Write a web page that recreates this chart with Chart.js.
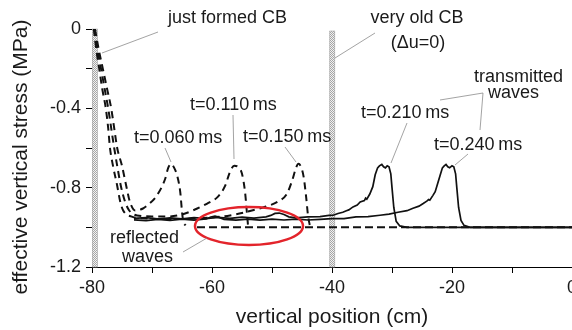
<!DOCTYPE html>
<html>
<head>
<meta charset="utf-8">
<script src="https://cdn.jsdelivr.net/npm/chart.js@4.4.1/dist/chart.umd.min.js"></script>
<style>
  html, body { margin: 0; padding: 0; background: #fff; }
  #wrap { width: 572px; height: 330px; }
</style>
</head>
<body>
<div id="wrap"><canvas id="stress"></canvas></div>
<script>
// vertical position (cm) / effective vertical stress (MPa)
const x060 = [-79.5, -78.9, -78.2, -77.5, -76.8, -76.3, -75.8, -75.0, -74.3, -73.7, -72.8, -71.5, -70.8, -69.2, -67.8, -67.3, -66.8, -66.3, -65.8, -65.3, -65.0, -64.8, -64.4];
const y060 = [0, -0.1, -0.2, -0.3, -0.4, -0.5, -0.6, -0.69, -0.79, -0.87, -0.915, -0.905, -0.89, -0.84, -0.755, -0.70, -0.68, -0.70, -0.74, -0.82, -0.92, -0.97, -0.99];

const x110 = [-79.6, -79.1, -78.5, -77.9, -77.3, -76.8, -76.3, -75.8, -75.2, -74.5, -73.8, -72.5, -70.0, -67.0, -65.0, -63.2, -60.8, -59.0, -57.8, -57.0, -56.3, -55.5, -55.0, -54.5, -54.2, -54.0];
const y110 = [0, -0.1, -0.2, -0.3, -0.4, -0.5, -0.6, -0.69, -0.79, -0.87, -0.915, -0.94, -0.945, -0.945, -0.935, -0.915, -0.88, -0.845, -0.79, -0.72, -0.69, -0.70, -0.73, -0.82, -0.92, -0.99];

const x150 = [-79.7, -79.3, -78.8, -78.3, -77.7, -77.3, -77.0, -76.5, -75.8, -75.3, -74.8, -73.5, -71.0, -66.0, -62.0, -60.0, -57.0, -54.0, -51.0, -49.0, -47.5, -46.6, -46.0, -45.6, -45.1, -44.7, -44.3, -44.0, -43.7];
const y150 = [0, -0.1, -0.2, -0.3, -0.4, -0.5, -0.6, -0.69, -0.79, -0.87, -0.915, -0.945, -0.955, -0.958, -0.955, -0.95, -0.94, -0.92, -0.895, -0.87, -0.83, -0.76, -0.70, -0.68, -0.70, -0.75, -0.85, -0.94, -0.99];

const x210 = [-73, -71, -69, -67, -65, -63, -61, -59, -57, -55, -53, -51, -50.2, -49.5, -48.8, -48, -47.2, -46, -44, -42, -40.5, -39.8, -39.0, -38.2, -37.6, -37.2, -36.5, -35.8, -35.3, -34.6, -34.4, -34.2, -33.7, -33.2, -32.8, -32.4, -32.1, -31.7, -31.4, -31.1, -30.8, -30.5, -30.2, -30.0, -29.7, -29.3, -28.7, -27.5, 0];
const y210 = [-0.955, -0.951, -0.958, -0.952, -0.957, -0.951, -0.956, -0.95, -0.955, -0.949, -0.954, -0.947, -0.94, -0.93, -0.928, -0.935, -0.947, -0.952, -0.947, -0.946, -0.94, -0.939, -0.93, -0.924, -0.916, -0.912, -0.897, -0.888, -0.872, -0.865, -0.853, -0.858, -0.832, -0.795, -0.735, -0.70, -0.69, -0.683, -0.695, -0.70, -0.69, -0.695, -0.73, -0.80, -0.90, -0.97, -0.993, -1.0, -1.0];

const x240 = [-73, -71, -69, -67, -65, -63, -61, -60.2, -59.5, -58.8, -58, -56, -54, -52, -50, -48, -46, -44, -42, -40, -38, -36, -34, -32, -30.5, -29, -27.5, -26.5, -25.5, -24.8, -24.2, -23.9, -23.7, -23.2, -22.8, -22.4, -22.0, -21.6, -21.3, -21.0, -20.7, -20.4, -20.0, -19.7, -19.4, -19.2, -18.9, -18.5, -18.0, -17.0, 0];
const y240 = [-0.962, -0.966, -0.96, -0.965, -0.959, -0.964, -0.958, -0.948, -0.944, -0.95, -0.96, -0.964, -0.959, -0.964, -0.959, -0.963, -0.959, -0.963, -0.96, -0.956, -0.956, -0.947, -0.946, -0.939, -0.933, -0.924, -0.916, -0.904, -0.893, -0.88, -0.868, -0.86, -0.863, -0.84, -0.82, -0.78, -0.74, -0.70, -0.69, -0.683, -0.695, -0.70, -0.69, -0.695, -0.73, -0.80, -0.90, -0.965, -0.99, -1.0, -1.0];

// undisturbed stress ahead of the fronts
const xInit = [-62.5, 0];
const yInit = [-1.0, -1.0];

// contact boundaries (CB)
const cbPositions = [-80, -40];

const xTickStep = 10;
const yTickStep = 0.2;

const pts = (xs, ys) => xs.map((x, i) => ({ x: x, y: ys[i] }));

const FONT = '"Liberation Sans", Arial, Helvetica, sans-serif';

function stipple(ctx) {
  const c = document.createElement('canvas');
  c.width = 2; c.height = 2;
  const g = c.getContext('2d');
  g.fillStyle = '#f2f2f2';
  g.fillRect(0, 0, 2, 2);
  g.fillStyle = '#a6a6a6';
  g.fillRect(0, 0, 1, 1);
  g.fillRect(1, 1, 1, 1);
  return ctx.createPattern(c, 'repeat');
}

const overlay = {
  id: 'overlay',
  beforeDatasetsDraw(chart) {
    const { ctx, chartArea, scales } = chart;
    ctx.save();
    ctx.fillStyle = stipple(ctx);
    ctx.strokeStyle = '#a8a8a8';
    ctx.lineWidth = 0.6;
    cbPositions.forEach((p, i) => {
      const px = scales.x.getPixelForValue(p);
      const left = i === 0 ? px : px - 2.5;
      const top = i === 0 ? chartArea.top : chartArea.top + 2;
      ctx.fillRect(left, top, 5.5, chartArea.bottom - top);
      ctx.strokeRect(left + 0.3, top, 5, chartArea.bottom - top);
    });
    ctx.restore();
  },
  afterDatasetsDraw(chart) {
    const { ctx } = chart;
    ctx.save();

    // red ellipse round the reflected waves
    ctx.strokeStyle = '#e3242b';
    ctx.lineWidth = 2.5;
    ctx.beginPath();
    ctx.ellipse(249, 226, 54, 19, 0, 0, Math.PI * 2);
    ctx.stroke();

    // leader lines
    ctx.strokeStyle = '#8c8c8c';
    ctx.lineWidth = 0.8;
    const leaders = [
      [[158, 32], [102, 53]],
      [[375, 33], [335, 58]],
      [[165, 148], [171, 162]],
      [[233, 115], [234, 159]],
      [[285, 147], [296, 162]],
      [[407, 123], [391, 163]],
      [[468, 154], [455, 165]],
      [[440, 100], [483, 93], [480, 130]],
      [[183, 252], [207, 238]]
    ];
    leaders.forEach(l => {
      ctx.beginPath();
      ctx.moveTo(l[0][0], l[0][1]);
      for (let i = 1; i < l.length; i++) ctx.lineTo(l[i][0], l[i][1]);
      ctx.stroke();
    });

    // labels
    ctx.fillStyle = '#1a1a1a';
    ctx.font = '18px ' + FONT;
    ctx.textBaseline = 'middle';
    ctx.textAlign = 'left';
    const labels = [
      ['just formed CB', 168, 18],
      ['t=0.060\u2009ms', 134, 138],
      ['t=0.110\u2009ms', 190, 105],
      ['t=0.150\u2009ms', 243, 137],
      ['t=0.210\u2009ms', 361, 113],
      ['t=0.240\u2009ms', 434, 145],
      ['transmitted', 474, 77],
      ['waves', 488, 93],
      ['reflected', 110, 238],
      ['waves', 122, 257]
    ];
    labels.forEach(t => ctx.fillText(t[0], t[1], t[2]));
    ctx.textAlign = 'center';
    ctx.fillText('very old CB', 417, 18);
    ctx.fillText('(\u0394u=0)', 418, 43);

    // axis titles
    ctx.font = '21px ' + FONT;
    ctx.fillText('vertical position (cm)', 332, 317);
    ctx.translate(21, 157);
    ctx.rotate(-Math.PI / 2);
    ctx.fillText('effective vertical stress (MPa)', 0, 0);
    ctx.restore();
  }
};

const dashed = { borderColor: '#111', borderWidth: 2, borderDash: [7, 5], pointRadius: 0, fill: false, cubicInterpolationMode: 'monotone' };
const solid = { borderColor: '#111', borderWidth: 1.7, pointRadius: 0, fill: false, tension: 0 };

new Chart(document.getElementById('stress'), {
  type: 'line',
  data: {
    datasets: [
      Object.assign({ label: 'initial', data: pts(xInit, yInit) }, dashed, { borderDash: [8, 4] }),
      Object.assign({ label: 't=0.060 ms', data: pts(x060, y060) }, dashed),
      Object.assign({ label: 't=0.110 ms', data: pts(x110, y110) }, dashed),
      Object.assign({ label: 't=0.150 ms', data: pts(x150, y150) }, dashed),
      Object.assign({ label: 't=0.210 ms', data: pts(x210, y210) }, solid),
      Object.assign({ label: 't=0.240 ms', data: pts(x240, y240) }, solid)
    ]
  },
  options: {
    responsive: true,
    maintainAspectRatio: false,
    animation: false,
    devicePixelRatio: 1,
    layout: { padding: { top: 29, right: 0, bottom: 0, left: 0 } },
    plugins: {
      legend: { display: false },
      tooltip: { enabled: false }
    },
    scales: {
      x: {
        type: 'linear',
        min: -80,
        max: 0,
        afterFit: s => { s.height = 63; s.paddingLeft = 0; s.paddingRight = 0; },
        border: { display: true, color: '#000', width: 1 },
        grid: { drawOnChartArea: false, drawTicks: true, tickLength: 6, color: '#000' },
        ticks: {
          stepSize: xTickStep,
          autoSkip: false,
          maxRotation: 0,
          padding: 4,
          color: '#1a1a1a',
          font: { family: FONT, size: 18 },
          callback: v => (Math.round(v) % 20 === 0 ? String(Math.round(v)) : '')
        }
      },
      y: {
        min: -1.2,
        max: 0,
        afterFit: s => { s.width = 92; },
        border: { display: true, color: '#000', width: 1 },
        grid: { drawOnChartArea: false, drawTicks: true, tickLength: 6, color: '#000' },
        ticks: {
          stepSize: yTickStep,
          autoSkip: false,
          padding: 5,
          color: '#1a1a1a',
          font: { family: FONT, size: 18 },
          callback: v => {
            const k = Math.round(v * 10);
            if (k % 4 !== 0) return '';
            return k === 0 ? '0' : (k / 10).toFixed(1);
          }
        }
      }
    }
  },
  plugins: [overlay]
});
</script>
</body>
</html>
